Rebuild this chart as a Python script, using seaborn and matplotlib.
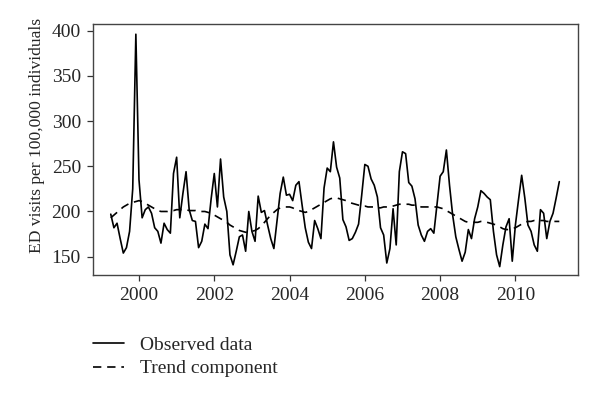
"""ED visits per 100,000 individuals: observed monthly series and trend component."""

import numpy as np
import pandas as pd
import seaborn as sns
import matplotlib
matplotlib.use("Agg")
import matplotlib.pyplot as plt

# monthly series, April 1999 .. March 2011
start_year = 1999.25
observed = [
    197, 182, 187, 170, 154, 160, 178, 225, 396, 235, 193, 202,
    205, 198, 182, 178, 165, 187, 180, 176, 242, 260, 193, 220,
    244, 202, 190, 189, 160, 167, 186, 181, 214, 242, 205, 258,
    216, 200, 152, 141, 156, 172, 174, 156, 200, 178, 167, 217,
    199, 201, 185, 170, 159, 190, 220, 238, 218, 219, 212, 229,
    233, 207, 182, 166, 159, 190, 181, 170, 226, 248, 244, 277,
    249, 237, 191, 183, 168, 170, 177, 186, 218, 252, 250, 236,
    229, 216, 182, 174, 143, 159, 203, 163, 244, 266, 264, 232,
    228, 214, 185, 174, 167, 178, 181, 176, 207, 239, 244, 268,
    229, 196, 172, 158, 145, 155, 180, 170, 192, 205, 223, 220,
    216, 213, 178, 152, 139, 163, 183, 192, 145, 185, 213, 240,
    215, 185, 178, 163, 156, 202, 198, 170, 189, 198, 215, 233,
]
trend = [
    193, 196, 199, 202, 205, 207, 209, 210, 211, 212, 211, 209,
    207, 205, 203, 201, 200, 200, 200, 201, 201, 202, 202, 202,
    202, 201, 201, 201, 200, 200, 200, 199, 198, 196, 194, 192,
    190, 188, 185, 183, 181, 179, 178, 177, 177, 178, 179, 181,
    184, 188, 192, 196, 199, 202, 204, 205, 205, 205, 204, 202,
    201, 200, 199, 200, 202, 204, 206, 208, 210, 212, 214, 215,
    215, 214, 213, 212, 210, 209, 208, 207, 206, 206, 205, 205,
    205, 204, 204, 205, 205, 205, 206, 207, 208, 208, 208, 208,
    207, 207, 206, 205, 205, 205, 205, 205, 205, 204, 203, 201,
    199, 197, 195, 193, 191, 189, 188, 188, 188, 188, 189, 189,
    188, 187, 186, 185, 183, 181, 180, 180, 181, 182, 184, 186,
    188, 189, 189, 190, 190, 190, 190, 189, 189, 189, 189, 189,
]
year_ticks = [2000, 2002, 2004, 2006, 2008, 2010]
y_ticks = [150, 200, 250, 300, 350, 400]

t = start_year + np.arange(len(observed)) / 12
df = pd.DataFrame({"t": t, "observed": observed, "trend": trend})

sns.set_style("ticks")
plt.rcParams["font.family"] = ["Liberation Serif", "DejaVu Serif"]

fig = plt.figure(figsize=(6, 3.99), dpi=100)
ax = fig.add_axes([0.1545, 0.310, 0.808, 0.630])

sns.lineplot(data=df, x="t", y="observed", ax=ax, color="black", lw=1.2,
             label="Observed data")
sns.lineplot(data=df, x="t", y="trend", ax=ax, color="black", lw=1.2,
             dashes=False, label="Trend component")
ax.lines[1].set_dashes([5, 3.5])

ax.set_xlim(1998.77, 2011.65)
ax.set_ylim(129.4, 407.4)
ax.set_xticks(year_ticks)
ax.set_yticks(y_ticks)
ax.tick_params(labelsize=14, length=4.5, width=0.9, color="#333333", pad=4)
ax.set_xlabel("")
ax.set_ylabel("ED visits per 100,000 individuals", fontsize=12.6)
ax.yaxis.set_label_coords(-0.098, 0.558)
for s in ax.spines.values():
    s.set_color("#444444")
    s.set_linewidth(1.0)

ax.legend(loc="upper left", bbox_to_anchor=(0.155, 0.157),
          bbox_transform=fig.transFigure, frameon=False, fontsize=14,
          handlelength=1.6, handletextpad=0.8, labelspacing=0.3,
          borderaxespad=0, borderpad=0)

fig.savefig("out.png", dpi=100)
